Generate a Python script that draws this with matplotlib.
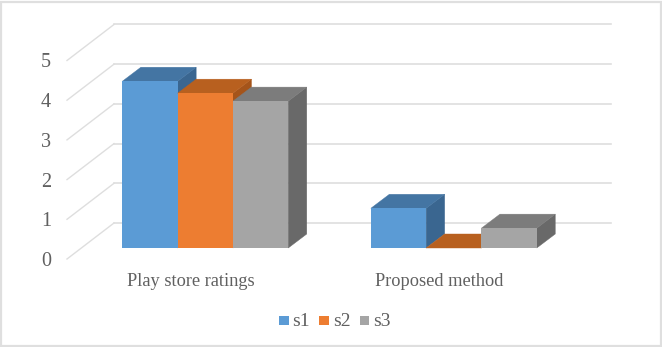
import matplotlib
matplotlib.use("Agg")
import matplotlib.pyplot as plt
from matplotlib.patches import Polygon, Rectangle

categories = ["Play store ratings", "Proposed method"]
series_names = ["s1", "s2", "s3"]
s1 = [4.2, 1.0]
s2 = [3.9, 0.0]
s3 = [3.7, 0.5]
y_ticks = [0, 1, 2, 3, 4, 5]

front_colors = ["#5B9BD5", "#ED7D31", "#A5A5A5"]
top_colors = ["#4475A3", "#B8601F", "#7C7C7C"]
side_colors = ["#3A6690", "#A5541A", "#696969"]
grid_color = "#DEDEDE"
text_color = "#606060"

W, H = 662, 347
PX_Y = 39.7          # pixels per value unit
PX_X = 248.5         # pixels per category unit
X0, Y0 = 205.3, 248  # pixel of category 0, value 0

plt.rcParams["font.family"] = ["Liberation Serif", "DejaVu Serif"]
fig = plt.figure(figsize=(W / 100, H / 100), dpi=100)
ax = fig.add_axes([0, 0, 1, 1])
ax.set_xlim(-X0 / PX_X, (W - X0) / PX_X)
ax.set_ylim((Y0 - H) / PX_Y, Y0 / PX_Y)
ax.axis("off")

bar_w = 55.3 / PX_X
dep_x, dep_y = 18.5 / PX_X, 14 / PX_Y       # bar depth
wall_x, wall_y = (114 - X0) / PX_X, 25 / PX_Y  # left wall corner, wall offset
floor_x, floor_y = -47 / PX_X, -36 / PX_Y     # floor edge towards the front
wall_right = (611 - X0) / PX_X

# frame
fig.add_artist(Rectangle((1 / W, 1.5 / H), (W - 2.5) / W, (H - 3) / H, transform=fig.transFigure,
                         fill=False, ec="#DFDFDF", lw=1.6))

# wall and floor gridlines
for t in y_ticks:
    y = t + wall_y
    ax.plot([wall_x, wall_right], [y, y], color=grid_color, lw=1.2, zorder=1)
    ax.plot([wall_x + floor_x, wall_x], [y + floor_y, y], color=grid_color, lw=1.0, zorder=1)
    ax.text(wall_x + floor_x - 21 / PX_X, y + floor_y - 2.5 / PX_Y, str(t), ha="center", va="center",
            fontsize=14.5, color=text_color)

# bars
z = 2
for i, values in enumerate([s1, s2, s3]):
    for c, v in enumerate(values):
        left = c + (i - 1.5) * bar_w
        right = left + bar_w
        ax.add_patch(Polygon([(right, 0), (right + dep_x, dep_y), (right + dep_x, v + dep_y), (right, v)],
                             fc=side_colors[i], ec=side_colors[i], lw=0.3, zorder=z))
        ax.add_patch(Polygon([(left, v), (left + dep_x, v + dep_y), (right + dep_x, v + dep_y), (right, v)],
                             fc=top_colors[i], ec=top_colors[i], lw=0.3, zorder=z + 0.1))
        ax.bar(left, v, width=bar_w, align="edge", color=front_colors[i], lw=0, zorder=z + 0.2)
        z += 1

# category labels
for c, name in enumerate(categories):
    ax.text(c - 14.5 / PX_X, (Y0 - 281.5) / PX_Y, name, ha="center", va="center",
            fontsize=13.2, color=text_color)

# legend
for name, color, px in zip(series_names, front_colors, [279, 319.5, 360]):
    x = (px - X0) / PX_X
    ax.add_patch(Rectangle((x, (Y0 - 325) / PX_Y), 9.5 / PX_X, 9.5 / PX_Y, fc=color, lw=0, zorder=5))
    ax.text(x + 13.5 / PX_X, (Y0 - 321) / PX_Y, name, ha="left", va="center",
            fontsize=14, color=text_color)

fig.savefig("out.png", dpi=100)
